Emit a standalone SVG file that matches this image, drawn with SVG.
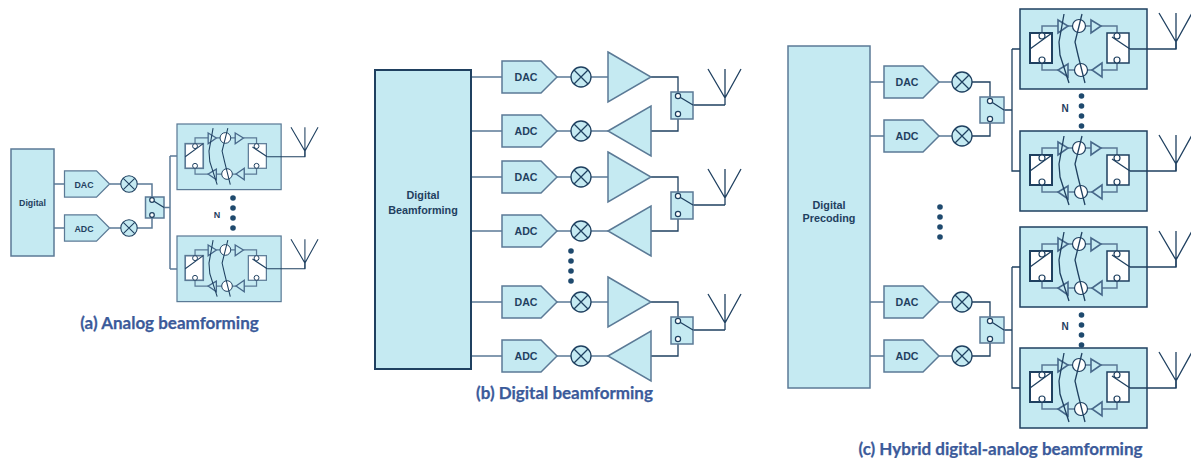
<svg xmlns="http://www.w3.org/2000/svg" width="1191" height="458" viewBox="0 0 1191 458">
<style>
.f{fill:#c5eaf2}
.s{stroke:#5b7a96;stroke-width:1.5;fill:#c5eaf2}
.d{stroke:#1f4060;stroke-width:1.3;fill:none}
.g{stroke:#5b7a96;stroke-width:1.5;fill:none}
.w{stroke:#1f4060;stroke-width:1.2;fill:#fff}
.l{font-family:"Liberation Sans",Arial,sans-serif;font-weight:700;fill:#1f4060;text-anchor:middle}
.c{font-family:Lato,"Liberation Sans",sans-serif;font-weight:700;font-size:17px;fill:#3b5a9a;stroke:#3b5a9a;stroke-width:.25;text-anchor:middle}
.o{fill:#1f4a6e}
.m{stroke:currentColor;fill:#c5eaf2;stroke-width:1.5}
.n{stroke:currentColor;fill:#fff}
.t{stroke:#47688a;stroke-width:1.6;fill:#c5eaf2}
</style>
<defs>
<polygon id="conv" class="s" points="0,-16 39,-16 55,0 39,16 0,16"/>
<g id="mix"><circle r="10" class="f" stroke="#1f4060" stroke-width="1.3"/><path class="d" d="M-7 -7L7 7M-7 7L7 -7"/></g>
<polygon id="ampR" class="s" points="0,-25 43,0 0,25"/>
<polygon id="ampL" class="s" points="0,0 43,-25 43,25"/>
<path id="ant" class="d" d="M-17 -29L0 0L16 -29M0 -29V7"/>
<g id="dot"><circle class="o" cy="0" r="2.800"/><circle class="o" cy="10" r="2.800"/><circle class="o" cy="20" r="2.800"/><circle class="o" cy="30" r="2.800"/></g>
<g id="mod">
<rect width="127" height="80" class="m"/>
<path class="g" d="M22 27V17H38M48 17H53M65.500 17H71M81 17H97V27M22 51V61H38M48 61H54.500M67.500 61H72M82 61H97V51"/>
<rect x="10" y="24" width="22" height="30" class="n" stroke-width="2"/>
<rect x="87" y="24" width="22" height="30" class="n" stroke-width="1.500"/>
<path class="t" d="M38 11L48 17L38 24Z"/><path class="t" d="M71 11L81 17L71 24Z"/>
<path class="t" d="M48 55L38 61L48 68Z"/><path class="t" d="M82 54L72 61L82 68Z"/>
<circle cx="59" cy="17" r="6.500" class="w"/><circle cx="61" cy="61" r="6.500" class="w"/>
<path class="d" d="M44 5L39 33L40 46L49 74M62 5L55 33L58 46L65 74"/>
<path class="d" d="M10 40L32 24M110 40L92 28"/>
<circle cx="22" cy="27" r="3" class="w"/><circle cx="22" cy="51" r="3" class="w"/>
<circle cx="97" cy="27" r="3" class="w"/><circle cx="97" cy="51" r="3" class="w"/>
<path class="d" d="M110 40H156V33"/>
<use href="#ant" x="156" y="33"/>
</g>
</defs>

<g id="connectors">
<path class="g" d="M54 184H65M54 228H65M110 184H121M110 228H121"/>
<path class="g" d="M137 184H152V200M137 228H152V215M164 207.500H170M170 156V269M170 156H185M170 269H185"/>
<path class="g" d="M471 77H502M471 131H502M471 177H502M471 231H502M471 302H502M471 356H502"/>
<path class="g" d="M557 77H571M591 77H608M557 131H571M591 131H609M557 177H571M591 177H608M557 231H571M591 231H609M557 302H571M591 302H608M557 356H571M591 356H609"/>
<path class="d" d="M651 77H678V96M651 131H678V114M693 105H725M651 177H678V196M651 231H678V214M693 205H725M651 302H678V321M651 356H678V339M693 330H725"/>
<path class="g" d="M870 82H884M870 136H884M939 82H952M939 136H952M870 302H884M870 356H884M939 302H952M939 356H952"/>
<path class="d" d="M972 82H990V101M972 136H990V119M1004 110H1012M972 302H990V321M972 356H990V339M1004 330H1012M1012 49H1030M1012 49V171H1030M1012 267H1030M1012 267V388H1030"/>
</g>

<g id="panel-a">
<g id="a-digital"><rect x="11" y="149" width="43" height="107" class="s"/><text class="l" x="32.500" y="205.500" font-size="8.800">Digital</text></g>
<g id="a-dac"><use href="#conv" transform="translate(64.500 184) scale(.82)"/><text class="l" x="84" y="187.500" font-size="8.800">DAC</text></g>
<g id="a-adc"><use href="#conv" transform="translate(64.500 228) scale(.82)"/><text class="l" x="84" y="231.500" font-size="8.800">ADC</text></g>
<g id="a-mix1"><use href="#mix" transform="translate(129 184) scale(.82)"/></g>
<g id="a-mix2"><use href="#mix" transform="translate(129 228) scale(.82)"/></g>
<g id="a-switch"><rect x="145.500" y="197" width="18.500" height="21" class="s"/><path class="d" d="M152 200L164 207.500"/><circle cx="152" cy="200" r="2.300" class="w"/><circle cx="152" cy="215" r="2.300" class="w"/></g>
<g id="a-mod1"><use href="#mod" color="#5b7a96" transform="translate(177 124) scale(.82)"/></g>
<g id="a-mod2"><use href="#mod" color="#5b7a96" transform="translate(177 236) scale(.82)"/></g>
<g id="a-n"><text class="l" x="217" y="217.500" font-size="9">N</text><use href="#dot" x="233" y="198"/></g>
<text class="c" x="169.500" y="329">(a) Analog beamforming</text>
</g>

<g id="panel-b">
<g id="b-digital"><rect x="375" y="70" width="96" height="299" class="f" stroke="#1f4060" stroke-width="2"/><text class="l" x="423" y="199" font-size="10.800">Digital</text><text class="l" x="423" y="214" font-size="10.800">Beamforming</text></g>
<g id="b-dac1"><use href="#conv" x="502" y="77"/><text class="l" x="526" y="81" font-size="10.600">DAC</text></g>
<g id="b-adc1"><use href="#conv" x="502" y="131"/><text class="l" x="526" y="135" font-size="10.600">ADC</text></g>
<g id="b-dac2"><use href="#conv" x="502" y="177"/><text class="l" x="526" y="181" font-size="10.600">DAC</text></g>
<g id="b-adc2"><use href="#conv" x="502" y="231"/><text class="l" x="526" y="235" font-size="10.600">ADC</text></g>
<g id="b-dac3"><use href="#conv" x="502" y="302"/><text class="l" x="526" y="306" font-size="10.600">DAC</text></g>
<g id="b-adc3"><use href="#conv" x="502" y="356"/><text class="l" x="526" y="360" font-size="10.600">ADC</text></g>
<g id="b-mixers"><use href="#mix" x="581" y="77"/><use href="#mix" x="581" y="131"/><use href="#mix" x="581" y="177"/><use href="#mix" x="581" y="231"/><use href="#mix" x="581" y="302"/><use href="#mix" x="581" y="356"/></g>
<g id="b-amps"><use href="#ampR" x="608" y="77"/><use href="#ampL" x="608" y="131"/><use href="#ampR" x="608" y="177"/><use href="#ampL" x="608" y="231"/><use href="#ampR" x="608" y="302"/><use href="#ampL" x="608" y="356"/></g>
<g id="b-sw1"><rect x="671" y="92" width="22" height="27" class="s"/><path class="d" d="M678 96L693 105"/><circle cx="678" cy="96" r="2.600" class="w"/><circle cx="678" cy="114" r="2.600" class="w"/><use href="#ant" x="725" y="98"/></g>
<g id="b-sw2"><rect x="671" y="192" width="22" height="27" class="s"/><path class="d" d="M678 196L693 205"/><circle cx="678" cy="196" r="2.600" class="w"/><circle cx="678" cy="214" r="2.600" class="w"/><use href="#ant" x="725" y="198"/></g>
<g id="b-sw3"><rect x="671" y="317" width="22" height="27" class="s"/><path class="d" d="M678 321L693 330"/><circle cx="678" cy="321" r="2.600" class="w"/><circle cx="678" cy="339" r="2.600" class="w"/><use href="#ant" x="725" y="323"/></g>
<use href="#dot" x="571" y="251"/>
<text class="c" x="564.500" y="399">(b) Digital beamforming</text>
</g>

<g id="panel-c">
<g id="c-digital"><rect x="788" y="46" width="82" height="342" class="s"/><text class="l" x="829" y="209" font-size="10.800">Digital</text><text class="l" x="829" y="222" font-size="10.800">Precoding</text></g>
<g id="c-dac1"><use href="#conv" x="884" y="82"/><text class="l" x="907" y="86" font-size="10.600">DAC</text></g>
<g id="c-adc1"><use href="#conv" x="884" y="136"/><text class="l" x="907" y="140" font-size="10.600">ADC</text></g>
<g id="c-dac2"><use href="#conv" x="884" y="302"/><text class="l" x="907" y="306" font-size="10.600">DAC</text></g>
<g id="c-adc2"><use href="#conv" x="884" y="356"/><text class="l" x="907" y="360" font-size="10.600">ADC</text></g>
<g id="c-mixers"><use href="#mix" x="962" y="82"/><use href="#mix" x="962" y="136"/><use href="#mix" x="962" y="302"/><use href="#mix" x="962" y="356"/></g>
<g id="c-sw1"><rect x="980" y="97" width="24" height="26" class="s"/><path class="d" d="M990 101L1004 110"/><circle cx="990" cy="101" r="2.600" class="w"/><circle cx="990" cy="119" r="2.600" class="w"/></g>
<g id="c-sw2"><rect x="980" y="317" width="24" height="26" class="s"/><path class="d" d="M990 321L1004 330"/><circle cx="990" cy="321" r="2.600" class="w"/><circle cx="990" cy="339" r="2.600" class="w"/></g>
<g id="c-mod1"><use href="#mod" color="#1f4060" x="1020" y="9"/></g>
<g id="c-mod2"><use href="#mod" color="#1f4060" x="1020" y="131"/></g>
<g id="c-mod3"><use href="#mod" color="#1f4060" x="1020" y="227"/></g>
<g id="c-mod4"><use href="#mod" color="#1f4060" x="1020" y="348"/></g>
<g id="c-n1"><text class="l" x="1065" y="112" font-size="10">N</text><use href="#dot" x="1081.500" y="96"/></g>
<g id="c-n2"><text class="l" x="1065" y="330" font-size="10">N</text><use href="#dot" x="1081.500" y="315"/></g>
<use href="#dot" x="940" y="207"/>
<text class="c" x="1000.500" y="455">(c) Hybrid digital-analog beamforming</text>
</g>
</svg>
